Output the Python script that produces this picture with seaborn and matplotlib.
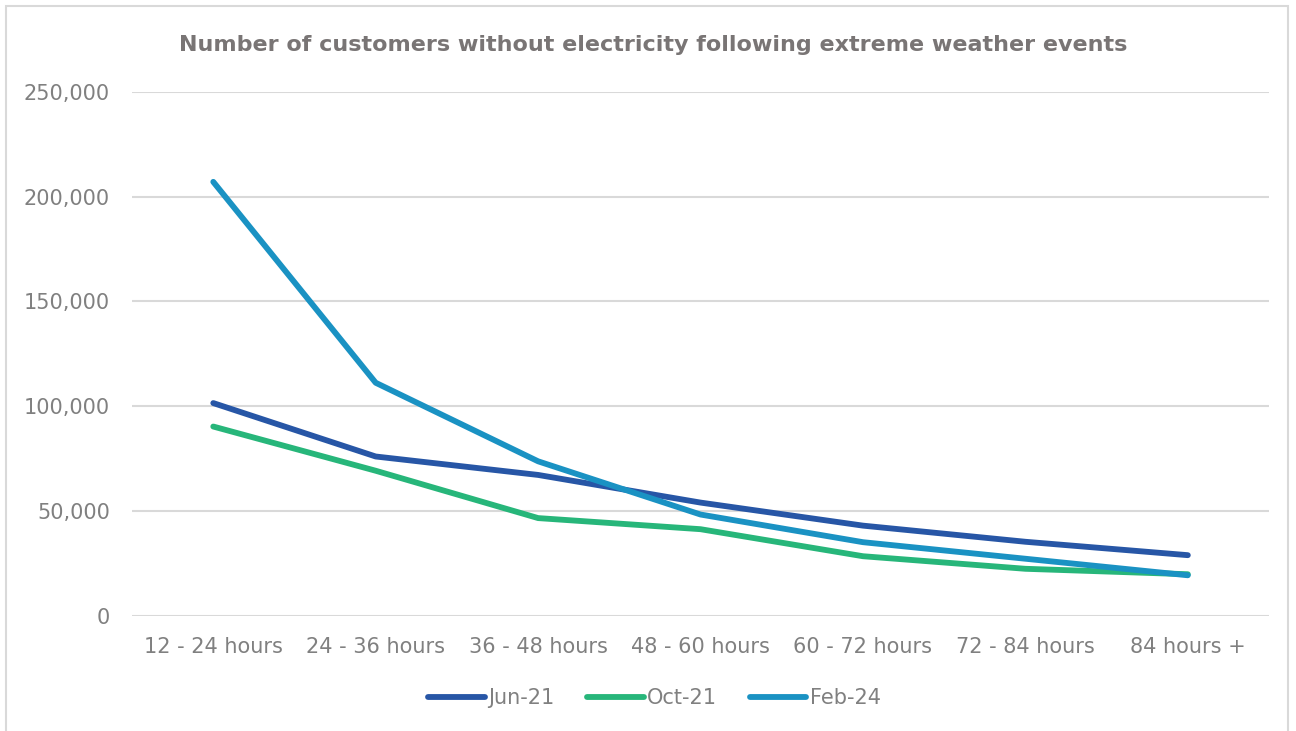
import matplotlib
matplotlib.use("Agg")
import matplotlib.pyplot as plt
from matplotlib.patches import Rectangle
import pandas as pd
import seaborn as sns

categories = ["12 - 24 hours", "24 - 36 hours", "36 - 48 hours", "48 - 60 hours",
              "60 - 72 hours", "72 - 84 hours", "84 hours +"]
jun_21 = [101500, 76000, 67200, 54000, 43000, 35300, 28900]
oct_21 = [90300, 69200, 46600, 41300, 28400, 22400, 19800]
feb_24 = [207100, 111200, 73700, 48300, 35100, 27200, 19300]
series_names = ["Jun-21", "Oct-21", "Feb-24"]
series_colors = ["#2756A6", "#27B67A", "#1A92C3"]
y_ticks = [0, 50000, 100000, 150000, 200000, 250000]

rows = []
for name, values in zip(series_names, [jun_21, oct_21, feb_24]):
    for cat, v in zip(categories, values):
        rows.append({"period": cat, "customers": v, "event": name})
df = pd.DataFrame(rows)

sns.set_theme(style="white")
plt.rcParams["font.family"] = ["DejaVu Sans"]
text_gray = "#808080"

fig = plt.figure(figsize=(12.96, 7.31), dpi=100)
ax = fig.add_axes([0.1019, 0.1577, 0.8773, 0.7165])

sns.lineplot(data=df, x="period", y="customers", hue="event",
             hue_order=series_names, palette=series_colors,
             linewidth=4.2, sort=False, ax=ax, legend=False,
             solid_capstyle="round", solid_joinstyle="round")

ax.set_xlim(-0.5, len(categories) - 0.5)
ax.set_ylim(0, 250000)
ax.set_yticks(y_ticks)
ax.set_yticklabels([f"{t:,}" for t in y_ticks])
ax.set_xticks(range(len(categories)))
ax.set_xticklabels(categories)
ax.yaxis.grid(True, color="#D9D9D9", linewidth=1.5)
ax.xaxis.grid(False)
ax.set_axisbelow(True)
for s in ax.spines.values():
    s.set_visible(False)
ax.tick_params(axis="both", length=0, colors=text_gray, labelsize=15)
ax.tick_params(axis="y", pad=16)
ax.tick_params(axis="x", pad=15)
ax.set_xlabel("")
ax.set_ylabel("")

fig.text(0.504, 0.938, "Number of customers without electricity following extreme weather events",
         ha="center", va="center", fontsize=16, fontweight="bold", color="#797575")

handles = [plt.Line2D([0], [0], color=c, linewidth=4.2, solid_capstyle="round")
           for c in series_colors]
fig.legend(handles, series_names, loc="center", bbox_to_anchor=(0.505, 0.045),
           ncol=3, frameon=False, fontsize=15, labelcolor=text_gray,
           handlelength=2.7, handletextpad=0.15, columnspacing=1.6)

fig.patches.append(Rectangle((6 / 1296, -0.05), (1288 - 6) / 1296, 1.05 - 6 / 731,
                             transform=fig.transFigure, fill=False,
                             edgecolor="#D9D9D9", linewidth=1.5))

fig.savefig("out.png", dpi=100, facecolor="white")
